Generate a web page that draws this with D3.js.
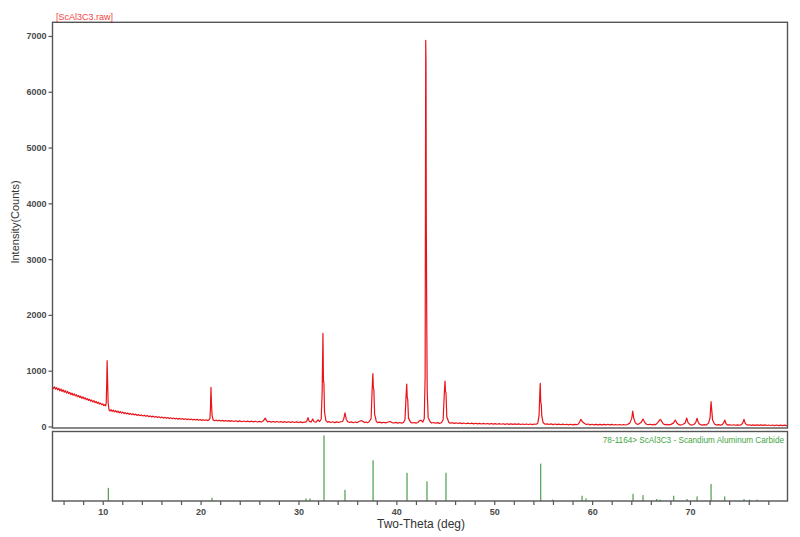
<!DOCTYPE html>
<html>
<head>
<meta charset="utf-8">
<script src="https://cdn.jsdelivr.net/npm/d3@7"></script>
<style>
  html, body { margin: 0; padding: 0; background: #fff; }
  svg { display: block; }
  text { font-family: "Liberation Sans", Arial, sans-serif; }
</style>
</head>
<body>
<svg id="chart" width="800" height="537"></svg>
<script>
// ---------- data ----------
const scanTitle = "[ScAl3C3.raw]";
const refLabel = "78-1164> ScAl3C3 - Scandium Aluminum Carbide";
const xLabel = "Two-Theta (deg)";
const yLabel = "Intensity(Counts)";

const yTicks = [0, 1000, 2000, 3000, 4000, 5000, 6000, 7000];
const xTicks = [6, 8, 10, 12, 14, 16, 18, 20, 22, 24, 26, 28, 30, 32, 34, 36, 38, 40,
                42, 44, 46, 48, 50, 52, 54, 56, 58, 60, 62, 64, 66, 68, 70, 72, 74, 76, 78];
const xTickLabels = [10, 20, 30, 40, 50, 60, 70];

// measured scan: [2-theta, counts]
const scan = [
 [4.87,705],[4.98,680],[5.08,712],[5.18,668],[5.3,695],[5.4,655],[5.52,684],[5.62,640],[5.74,670],[5.85,628],
 [5.96,655],[6.07,615],[6.18,642],[6.3,600],[6.41,628],[6.52,590],[6.63,612],[6.75,572],[6.86,598],[6.97,560],
 [7.08,586],[7.2,548],[7.31,570],[7.42,532],[7.54,556],[7.65,520],[7.76,542],[7.87,505],[7.98,530],[8.1,494],
 [8.21,515],[8.32,480],[8.44,500],[8.55,468],[8.66,488],[8.77,455],[8.88,474],[9.0,440],[9.11,462],[9.22,428],
 [9.33,448],[9.45,415],[9.56,434],[9.67,402],[9.78,420],[9.9,390],[10.01,405],[10.12,375],[10.22,392],[10.3,370],
 [10.36,430],[10.41,780],[10.45,1180],[10.5,820],[10.55,430],[10.64,300],
 [10.75,278],[10.86,300],[10.97,270],[11.08,292],[11.2,262],[11.32,284],[11.44,255],[11.56,274],[11.68,246],
 [11.8,266],[11.92,240],[12.05,258],[12.18,232],[12.3,250],[12.43,226],[12.56,242],[12.7,218],[12.83,236],
 [12.96,212],[13.1,228],[13.24,206],[13.38,222],[13.52,198],[13.66,216],[13.8,194],[13.95,208],[14.1,188],
 [14.25,202],[14.4,182],[14.55,196],[14.7,176],[14.85,190],[15.0,170],[15.15,186],[15.3,166],[15.45,180],
 [15.6,160],[15.75,174],[15.9,156],[16.05,170],[16.2,150],[16.35,164],[16.5,147],[16.65,160],[16.8,142],
 [16.95,156],[17.1,140],[17.25,152],[17.4,136],[17.55,148],[17.7,132],[17.85,145],[18.0,130],[18.15,142],
 [18.3,126],[18.45,138],[18.6,124],[18.75,135],[18.9,120],[19.05,133],[19.2,118],[19.35,130],[19.5,115],
 [19.65,128],[19.8,113],[19.95,125],[20.1,110],[20.25,122],[20.4,108],[20.55,120],[20.7,106],[20.85,118],
 [20.95,140],[21.01,330],[21.06,700],[21.11,430],[21.17,200],[21.3,112],
 [21.45,102],[21.6,115],[21.75,100],[21.9,112],[22.05,98],[22.2,110],[22.4,96],[22.55,108],[22.7,94],
 [22.85,106],[23.0,92],[23.2,104],[23.4,90],[23.6,102],[23.8,88],[24.0,100],[24.2,86],[24.4,98],[24.6,85],
 [24.8,96],[25.0,84],[25.2,95],[25.4,82],[25.6,94],[25.8,81],[26.0,92],[26.2,80],[26.35,94],
 [26.5,120],[26.6,150],[26.72,110],
 [26.85,82],[27.0,93],[27.2,79],[27.4,90],[27.6,78],[27.8,89],[28.0,76],[28.2,88],[28.4,75],[28.6,86],
 [28.8,74],[29.0,85],[29.2,73],[29.4,84],[29.6,72],[29.8,83],[30.0,71],[30.2,82],[30.4,70],[30.6,81],[30.75,78],
 [30.85,96],[30.97,160],[31.1,92],[31.3,80],[31.45,135],[31.6,85],[31.8,78],[32.0,120],[32.15,88],
 [32.32,130],[32.42,620],[32.5,1670],[32.55,820],[32.6,780],[32.66,260],[32.8,105],
 [32.95,78],[33.1,88],[33.3,72],[33.5,84],[33.7,70],[33.9,82],[34.1,72],[34.3,84],
 [34.5,90],[34.62,130],[34.75,245],[34.88,130],[35.05,84],
 [35.2,72],[35.4,82],[35.6,68],[35.8,80],[36.0,70],[36.15,84],
 [36.3,98],[36.45,105],[36.6,88],
 [36.75,70],[36.9,80],[37.05,68],[37.2,80],
 [37.42,140],[37.52,640],[37.6,950],[37.65,700],[37.7,660],[37.78,220],[37.95,92],
 [38.1,68],[38.3,78],[38.5,64],[38.7,76],[38.9,64],[39.1,76],[39.35,90],[39.55,70],[39.75,62],[39.95,74],
 [40.15,61],[40.35,72],[40.55,60],[40.72,72],
 [40.88,120],[40.98,500],[41.06,760],[41.11,520],[41.16,490],[41.24,150],[41.45,78],
 [41.6,62],[41.8,72],[42.0,60],[42.2,72],
 [42.35,100],[42.5,112],[42.7,80],[42.85,140],[42.94,900],[43.0,6920],[43.03,6520],[43.06,3650],
 [43.1,2050],[43.15,640],[43.25,160],[43.45,84],
 [43.6,62],[43.8,72],[44.0,58],[44.2,70],[44.4,57],[44.6,68],
 [44.78,120],[44.9,600],[44.97,815],[45.02,630],[45.07,600],[45.15,180],[45.35,76],
 [45.5,58],[45.7,68],[45.9,55],[46.1,66],[46.3,53],[46.5,64],[46.7,52],[46.9,62],[47.1,50],[47.3,61],
 [47.5,49],[47.7,60],[47.9,47],[48.1,58],[48.3,46],[48.5,57],[48.7,45],[48.9,55],[49.1,44],[49.3,54],
 [49.5,43],[49.7,53],[49.9,42],[50.1,52],[50.3,41],[50.5,51],[50.7,40],[50.9,50],[51.1,39],[51.3,49],
 [51.5,38],[51.7,48],[51.9,37],[52.1,47],[52.3,37],[52.5,46],[52.7,36],[52.9,45],[53.1,35],[53.3,44],
 [53.5,35],[53.7,44],[53.9,34],[54.1,44],
 [54.3,40],[54.45,60],[54.58,200],[54.65,560],[54.7,774],[54.75,430],[54.8,410],[54.86,180],[55.0,66],[55.2,40],
 [55.4,48],[55.6,36],[55.8,46],[56.0,34],[56.2,44],[56.4,33],[56.6,42],[56.8,32],[57.0,42],[57.2,31],
 [57.4,41],[57.6,30],[57.8,40],[58.0,30],[58.2,39],[58.4,32],[58.6,45],
 [58.72,80],[58.85,129],[58.98,90],[59.2,58],[59.4,36],
 [59.6,44],[59.8,30],[60.0,40],[60.2,29],[60.4,39],[60.6,28],[60.8,38],[61.0,28],[61.2,37],[61.4,28],
 [61.6,40],[61.8,30],[62.0,38],[62.2,27],[62.4,36],[62.6,27],[62.8,36],[63.0,26],[63.2,35],[63.4,26],[63.6,36],
 [63.85,60],[64.05,150],[64.15,278],[64.24,160],[64.4,70],[64.6,38],[64.8,48],
 [65.0,70],[65.2,134],[65.35,80],[65.55,40],
 [65.75,32],[65.95,40],[66.15,28],[66.35,38],[66.5,34],
 [66.7,70],[66.9,115],[66.95,129],[67.05,110],[67.25,50],
 [67.45,30],[67.65,38],[67.85,28],[68.05,38],
 [68.3,60],[68.5,116],[68.65,62],[68.85,34],[69.05,26],[69.25,36],
 [69.5,62],[69.66,152],[69.8,70],[70.0,34],[70.2,26],[70.4,36],
 [70.58,70],[70.72,147],[70.86,64],[71.05,32],[71.25,24],[71.45,34],[71.65,26],
 [71.9,60],[72.05,160],[72.15,444],[72.22,300],[72.3,120],[72.5,46],
 [72.7,26],[72.9,34],[73.1,24],[73.3,33],
 [73.45,70],[73.55,116],[73.68,50],
 [73.85,24],[74.05,32],[74.25,22],[74.45,31],[74.65,22],[74.85,30],[75.05,22],[75.25,34],
 [75.4,70],[75.52,129],[75.65,52],
 [75.85,24],[76.05,31],[76.25,21],[76.45,30],[76.65,20],[76.85,29],[77.05,20],[77.25,28],[77.45,19],
 [77.65,28],[77.85,18],[78.05,27],[78.25,18],[78.45,26],[78.65,17],[78.85,26],[79.05,17],[79.25,25],
 [79.45,16],[79.65,24],[79.85,16],[79.96,22]
];

// reference pattern sticks: [2-theta, relative intensity %]
const stickAngles = [10.57, 21.17, 30.77, 31.18, 32.61, 34.75, 37.62, 41.09, 43.13, 45.07,
                     54.75, 55.97, 58.97, 59.38, 64.18, 65.2, 66.6, 66.94, 68.34, 69.7,
                     70.72, 72.15, 73.55, 75.52, 76.1, 76.86];
const stickIntensity = [20, 5, 4, 4, 100, 17, 62, 43, 30, 43,
                        57, 2, 8, 4, 11, 9, 3, 2, 8, 3,
                        7, 26, 7, 3, 2, 2];

// ---------- layout ----------
const svg = d3.select("#chart");
const left = 52.5, right = 787.5;
const topY0 = 22.3, topY1 = 428;
const botY0 = 431.5, botY1 = 501;

const x = d3.scaleLinear().domain([4.87, 79.96]).range([left, right]);
const yTop = d3.scaleLinear().domain([-27, 7245]).range([topY1, topY0]);
const yBot = d3.scaleLinear().domain([0, 106]).range([botY1, botY0]);

const frameColor = "#555";
const tickColor = "#555";

svg.append("defs").append("clipPath").attr("id", "clipTop")
  .append("rect").attr("x", left).attr("y", topY0).attr("width", right - left).attr("height", topY1 - topY0);

// trace
const line = d3.line().x(d => x(d[0])).y(d => yTop(d[1]));
svg.append("path")
  .datum(scan)
  .attr("clip-path", "url(#clipTop)")
  .attr("d", line)
  .attr("fill", "none")
  .attr("stroke", "#e8141a")
  .attr("stroke-width", 1.2)
  .attr("stroke-linejoin", "round");

// sticks
svg.append("g").selectAll("line")
  .data(stickAngles)
  .join("line")
  .attr("x1", d => x(d)).attr("x2", d => x(d))
  .attr("y1", yBot(0))
  .attr("y2", (d, i) => yBot(stickIntensity[i]))
  .attr("stroke", "#2a8a2a")
  .attr("stroke-width", 1);

// frames
svg.append("rect").attr("x", left).attr("y", topY0).attr("width", right - left).attr("height", topY1 - topY0)
  .attr("fill", "none").attr("stroke", frameColor).attr("stroke-width", 1.4);
svg.append("rect").attr("x", left).attr("y", botY0).attr("width", right - left).attr("height", botY1 - botY0)
  .attr("fill", "none").attr("stroke", frameColor).attr("stroke-width", 1.4);

// y axis
const yAxis = d3.axisLeft(yTop).tickValues(yTicks).tickSize(4).tickPadding(2).tickFormat(d3.format("d"));
const gy = svg.append("g").attr("transform", `translate(${left},0)`).call(yAxis);
gy.select(".domain").remove();
gy.selectAll(".tick line").attr("stroke", tickColor).attr("stroke-width", 1.2);
gy.selectAll(".tick text").attr("fill", "#4a4a4a").attr("font-size", 9).attr("font-weight", "bold")
  .attr("font-family", "'Liberation Sans', Arial, sans-serif");

// x axis
const xAxis = d3.axisBottom(x).tickValues(xTicks).tickSize(4).tickPadding(4)
  .tickFormat(d => xTickLabels.includes(d) ? d : "");
const gx = svg.append("g").attr("transform", `translate(0,${botY1})`).call(xAxis);
gx.select(".domain").remove();
gx.selectAll(".tick line").attr("stroke", tickColor).attr("stroke-width", 1.2);
gx.selectAll(".tick text").attr("fill", "#4a4a4a").attr("font-size", 9).attr("font-weight", "bold")
  .attr("font-family", "'Liberation Sans', Arial, sans-serif");

// labels
svg.append("text").attr("x", 56).attr("y", 19.5).text(scanTitle)
  .attr("fill", "#ee4444").attr("font-size", 9);

svg.append("text").attr("x", 784).attr("y", 442.5).attr("text-anchor", "end").text(refLabel)
  .attr("fill", "#3fa43f").attr("font-size", 8.2);

svg.append("text").attr("x", 421).attr("y", 528).attr("text-anchor", "middle").text(xLabel)
  .attr("fill", "#333").attr("font-size", 12);

svg.append("text").attr("transform", "translate(19,222) rotate(-90)").attr("text-anchor", "middle").text(yLabel)
  .attr("fill", "#333").attr("font-size", 11);
</script>
</body>
</html>
